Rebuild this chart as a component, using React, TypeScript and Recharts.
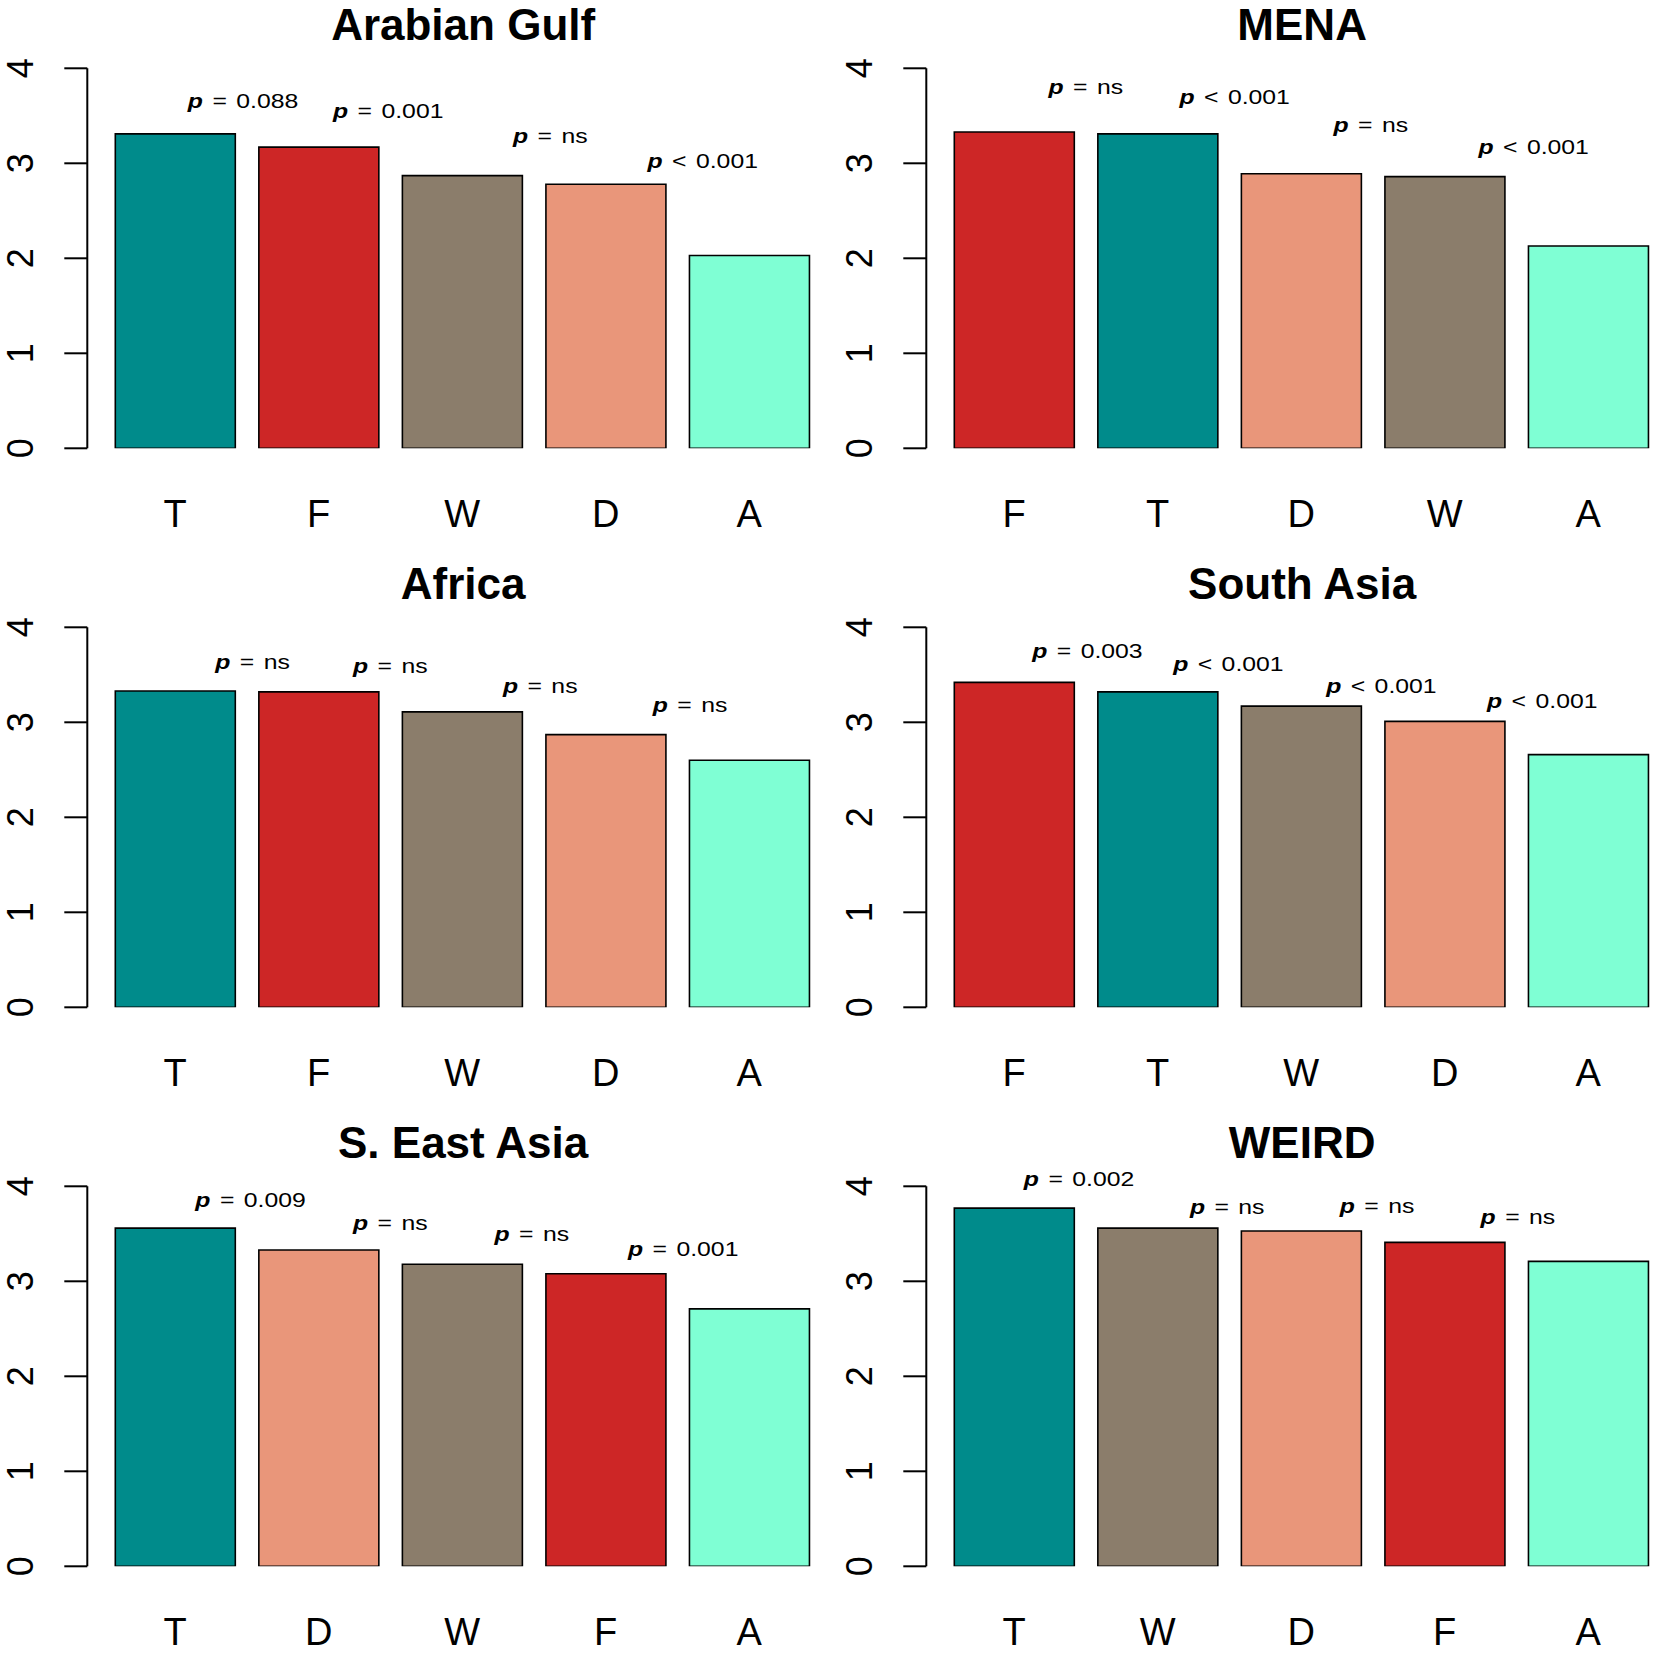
import React from "react";
import { ComposedChart, Bar, Line, XAxis, YAxis, Cell, LabelList } from "recharts";

// ---- colours per attribute ----
const COLORS: Record<string, string> = {
  T: "#008B8B",
  F: "#CD2626",
  W: "#8B7D6B",
  D: "#E9967A",
  A: "#7FFFD4",
};

// ---- Arabian Gulf ----
const gulfCats = ["T", "F", "W", "D", "A"];
const gulfVals = [3.31, 3.17, 2.87, 2.78, 2.03];
const gulfP = ["= 0.088", "= 0.001", "= ns", "< 0.001"];
const gulfPY = [3.656, 3.556, 3.289, 3.033];
const gulfPX = [0.474, 1.485, 2.614, 3.676];

// ---- MENA ----
const menaCats = ["F", "T", "D", "W", "A"];
const menaVals = [3.33, 3.31, 2.89, 2.86, 2.13];
const menaP = ["= ns", "< 0.001", "= ns", "< 0.001"];
const menaPY = [3.81, 3.7, 3.41, 3.18];
const menaPX = [0.5, 1.537, 2.485, 3.62];

// ---- Africa ----
const africaCats = ["T", "F", "W", "D", "A"];
const africaVals = [3.33, 3.32, 3.11, 2.87, 2.6];
const africaP = ["= ns", "= ns", "= ns", "= ns"];
const africaPY = [3.644, 3.6, 3.389, 3.189];
const africaPX = [0.54, 1.5, 2.544, 3.588];

// ---- South Asia ----
const southAsiaCats = ["F", "T", "W", "D", "A"];
const southAsiaVals = [3.42, 3.32, 3.17, 3.01, 2.66];
const southAsiaP = ["= 0.003", "< 0.001", "< 0.001", "< 0.001"];
const southAsiaPY = [3.756, 3.622, 3.389, 3.233];
const southAsiaPX = [0.511, 1.493, 2.559, 3.68];

// ---- S. East Asia ----
const seAsiaCats = ["T", "D", "W", "F", "A"];
const seAsiaVals = [3.56, 3.33, 3.18, 3.08, 2.71];
const seAsiaP = ["= 0.009", "= ns", "= ns", "= 0.001"];
const seAsiaPY = [3.856, 3.622, 3.5, 3.344];
const seAsiaPX = [0.526, 1.5, 2.485, 3.54];

// ---- WEIRD ----
const weirdCats = ["T", "W", "D", "F", "A"];
const weirdVals = [3.77, 3.56, 3.53, 3.41, 3.21];
const weirdP = ["= 0.002", "= ns", "= ns", "= ns"];
const weirdPY = [4.078, 3.789, 3.8, 3.678];
const weirdPX = [0.453, 1.485, 2.529, 3.51];

const yTicks = [0, 1, 2, 3, 4];

const panels = [
  { title: "Arabian Gulf", cats: gulfCats, vals: gulfVals, p: gulfP, pY: gulfPY, pX: gulfPX },
  { title: "MENA", cats: menaCats, vals: menaVals, p: menaP, pY: menaPY, pX: menaPX },
  { title: "Africa", cats: africaCats, vals: africaVals, p: africaP, pY: africaPY, pX: africaPX },
  { title: "South Asia", cats: southAsiaCats, vals: southAsiaVals, p: southAsiaP, pY: southAsiaPY, pX: southAsiaPX },
  { title: "S. East Asia", cats: seAsiaCats, vals: seAsiaVals, p: seAsiaP, pY: seAsiaPY, pX: seAsiaPX },
  { title: "WEIRD", cats: weirdCats, vals: weirdVals, p: weirdP, pY: weirdPY, pX: weirdPX },
];

// ---- layout ----
const FONT = "'Liberation Sans', Arial, Helvetica, sans-serif";
const PANEL_W = 838.5;
const PANEL_H = 559;
const CHART_W = 839;
const PLOT_LEFT = 87.3;
const PLOT_TOP = 68.3;
const PLOT_BOTTOM = 448.3;
const PLOT_W = 751.7;
const BAND = 143.5;
const YAXIS_W = 60;
const XAXIS_H = 60;
const TITLE_PAD = 20;

const YTick = (props: any) => {
  const { y, payload } = props;
  const x = 33.3;
  return (
    <text
      x={x}
      y={y}
      transform={`rotate(-90, ${x}, ${y})`}
      textAnchor="middle"
      fontFamily={FONT}
      fontSize={36}
      fill="#000"
    >
      {payload.value}
    </text>
  );
};

const XTick = (props: any) => {
  const { x, payload } = props;
  return (
    <text x={x} y={526.5} textAnchor="middle" fontFamily={FONT} fontSize={38} fill="#000">
      {payload.value}
    </text>
  );
};

function makePLabel(pX: number[]) {
  return (props: any) => {
    const { x, y, value, index } = props;
    if (!value || y == null || isNaN(y)) return null;
    const rel = String(value).slice(0, 1);
    const rest = String(value).slice(2);
    const cx = x + (pX[index] - index) * BAND;
    return (
      <g transform={`translate(${cx}, ${y + 7.5}) scale(1.18, 1)`}>
        <text x={0} y={0} textAnchor="middle" fontFamily={FONT} fontSize={21} fill="#000">
          <tspan fontStyle="italic" fontWeight="bold">p</tspan>
          <tspan dx={8}>{rel}</tspan>
          <tspan dx={8}>{rest}</tspan>
        </text>
      </g>
    );
  };
}

function Panel({ panel, left, top }: any) {
  const data = panel.cats.map((c: string, i: number) => ({
    cat: c,
    v: panel.vals[i],
    pY: i < panel.pY.length ? panel.pY[i] : null,
    pText: i < panel.p.length ? panel.p[i] : null,
  }));
  return (
    <div style={{ position: "absolute", left, top, width: CHART_W, height: PANEL_H }}>
      <ComposedChart
        width={CHART_W}
        height={PANEL_H}
        data={data}
        margin={{
          top: PLOT_TOP,
          right: CHART_W - PLOT_LEFT - PLOT_W,
          left: PLOT_LEFT - YAXIS_W,
          bottom: PANEL_H - PLOT_BOTTOM - XAXIS_H,
        }}
      >
        <XAxis
          dataKey="cat"
          type="category"
          padding={{ left: 16, right: 18 }}
          axisLine={false}
          tickLine={false}
          tickSize={0}
          tickMargin={0}
          height={XAXIS_H}
          interval={0}
          tick={<XTick />}
        />
        <YAxis
          type="number"
          domain={[0, 4]}
          ticks={yTicks}
          allowDataOverflow={true}
          width={YAXIS_W}
          tickSize={23}
          axisLine={{ stroke: "#000", strokeWidth: 2 }}
          tickLine={{ stroke: "#000", strokeWidth: 2 }}
          tick={<YTick />}
          interval={0}
        />
        <Bar dataKey="v" barSize={120} stroke="#000" strokeWidth={1.6} isAnimationActive={false}>
          {data.map((d: any, i: number) => (
            <Cell key={i} fill={COLORS[d.cat]} stroke="#000" strokeWidth={1.6} />
          ))}
        </Bar>
        <Line
          dataKey="pY"
          stroke="none"
          dot={false}
          activeDot={false}
          isAnimationActive={false}
          connectNulls={false}
        >
          <LabelList dataKey="pText" content={makePLabel(panel.pX)} />
        </Line>
      </ComposedChart>
      <svg
        width={CHART_W}
        height={60 + TITLE_PAD}
        style={{ position: "absolute", left: 0, top: -TITLE_PAD, pointerEvents: "none" }}
      >
        <text
          x={PLOT_LEFT + PLOT_W / 2}
          y={40 + TITLE_PAD}
          textAnchor="middle"
          fontFamily={FONT}
          fontWeight="bold"
          fontSize={44}
          fill="#000"
        >
          {panel.title}
        </text>
      </svg>
    </div>
  );
}

export default function App() {
  return (
    <div
      style={{
        position: "absolute",
        left: 0,
        top: 0,
        width: 1654,
        height: 1653,
        overflow: "hidden",
        background: "#fff",
      }}
    >
      {panels.map((p, i) => (
        <Panel
          key={p.title}
          panel={p}
          left={(i % 2) * PANEL_W}
          top={Math.floor(i / 2) * PANEL_H}
        />
      ))}
    </div>
  );
}
